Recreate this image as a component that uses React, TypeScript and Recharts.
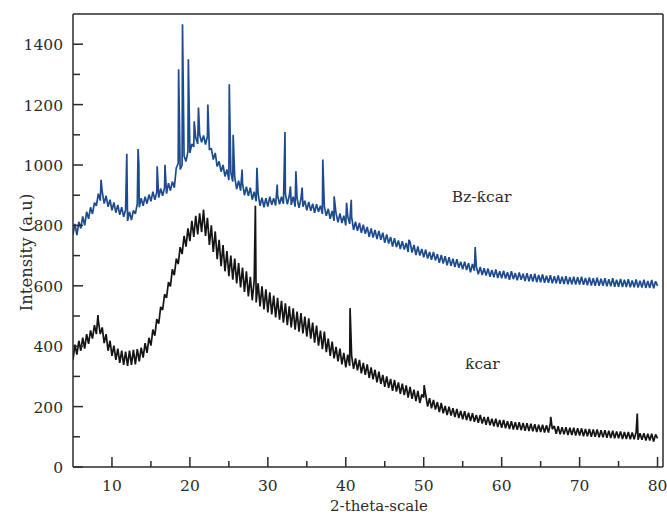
import React from "react";
import { LineChart, Line, XAxis, YAxis, ReferenceLine, ReferenceDot, Label } from "recharts";

// XRD patterns, sampled every 0.25 degree from 2θ = 5
const THETA_START = 5;
const THETA_STEP = 0.25;

// Bz-ƙcar (blue)
const bzIntensity = [
  770, 805, 768, 812, 790, 830, 800, 845, 822, 860, 838, 875, 865, 905, 882, 912,
  872, 898, 862, 885, 850, 876, 842, 868, 835, 860, 828, 852, 815, 845, 818, 850,
  838, 872, 860, 890, 865, 895, 872, 902, 880, 912, 885, 910, 892, 922, 898, 925,
  905, 940, 915, 945, 925, 990, 1005, 985, 1000, 1030, 1012, 1045, 1040, 1070, 1060, 1090,
  1070, 1100, 1075, 1098, 1068, 1095, 1050, 1055, 1018, 1040, 995, 1012, 978, 1000, 962, 985,
  950, 975, 945, 960, 920, 948, 915, 940, 900, 928, 898, 925, 885, 912, 880, 905,
  865, 892, 860, 890, 862, 895, 868, 890, 866, 900, 870, 895, 872, 905, 870, 898,
  868, 895, 862, 890, 858, 888, 862, 882, 850, 878, 848, 872, 842, 870, 845, 865,
  838, 862, 832, 855, 822, 848, 815, 840, 810, 840, 808, 832, 800, 830, 805, 828,
  785, 812, 782, 808, 775, 802, 772, 795, 762, 790, 760, 785, 755, 782, 752, 776,
  742, 770, 740, 762, 730, 758, 728, 750, 722, 748, 720, 742, 712, 745, 710, 735,
  702, 730, 700, 722, 694, 720, 690, 712, 686, 712, 684, 705, 676, 702, 674, 698,
  668, 695, 666, 690, 662, 688, 660, 680, 655, 680, 652, 675, 645, 672, 650, 664,
  638, 662, 636, 658, 634, 657, 630, 652, 628, 654, 626, 648, 625, 650, 624, 645,
  620, 648, 622, 642, 618, 644, 620, 640, 616, 642, 615, 638, 614, 640, 612, 636,
  612, 638, 610, 633, 610, 635, 608, 632, 608, 634, 607, 630, 606, 632, 605, 628,
  605, 630, 604, 628, 604, 630, 603, 626, 602, 628, 601, 625, 600, 627, 600, 623,
  600, 625, 598, 622, 598, 625, 597, 620, 597, 623, 596, 620, 596, 622, 595, 618,
  595, 621, 594, 617, 594, 620, 593, 616, 593, 619, 592, 615, 600,
];

// sharp reflections of Bz-ƙcar: [2θ, intensity]
const bzPeaks: [number, number][] = [
  [8.6, 951], [11.9, 1037], [13.35, 1053], [13.45, 1000], [15.8, 996], [16.8, 1001],
  [18.55, 1317], [19.05, 1466], [19.8, 1350], [20.55, 1145], [21.1, 1190], [22.3, 1200],
  [25.05, 1267], [25.55, 1100], [26.7, 985], [28.6, 991], [31.2, 935], [32.2, 1109],
  [32.9, 929], [33.6, 979], [34.4, 925], [37.05, 1018], [38.5, 896], [40.1, 875],
  [40.7, 885], [48.1, 752], [56.6, 728],
];

// ƙcar (black)
const kIntensity = [
  355, 405, 372, 418, 385, 428, 392, 440, 408, 452, 425, 470, 440, 485, 440, 462,
  410, 440, 385, 418, 368, 402, 355, 392, 345, 385, 338, 382, 335, 385, 338, 388,
  340, 390, 350, 395, 362, 410, 378, 428, 402, 455, 435, 490, 475, 530, 520, 572,
  560, 612, 598, 655, 635, 690, 672, 728, 705, 765, 730, 790, 748, 815, 762, 832,
  770, 840, 778, 852, 765, 825, 735, 800, 712, 780, 688, 752, 665, 735, 648, 715,
  632, 700, 620, 690, 608, 675, 595, 660, 580, 648, 565, 630, 552, 618, 545, 608,
  532, 598, 522, 588, 512, 578, 505, 568, 495, 560, 488, 550, 478, 542, 470, 532,
  462, 525, 455, 515, 448, 510, 442, 498, 432, 492, 425, 478, 412, 468, 402, 452,
  390, 448, 380, 425, 368, 415, 360, 398, 350, 392, 340, 378, 330, 372, 335, 368,
  325, 360, 320, 355, 310, 345, 305, 340, 295, 330, 290, 322, 280, 316, 275, 305,
  265, 300, 262, 292, 252, 288, 250, 280, 242, 276, 238, 270, 230, 265, 226, 256,
  218, 252, 212, 240, 230, 240, 200, 228, 194, 222, 190, 215, 182, 212, 178, 202,
  172, 200, 170, 195, 165, 192, 162, 186, 158, 185, 155, 180, 152, 178, 150, 172,
  146, 172, 144, 166, 140, 166, 138, 160, 135, 160, 132, 156, 130, 156, 128, 152,
  126, 152, 124, 148, 123, 148, 122, 146, 120, 145, 119, 143, 118, 142, 116, 140,
  116, 140, 114, 138, 114, 145, 125, 136, 110, 135, 108, 132, 108, 132, 106, 130,
  106, 130, 104, 128, 104, 128, 102, 126, 102, 126, 100, 124, 100, 124, 98, 122,
  98, 122, 97, 120, 96, 120, 95, 118, 95, 118, 93, 116, 93, 116, 92, 114,
  92, 115, 90, 112, 90, 112, 88, 110, 88, 110, 84, 108, 95,
];

const kPeaks: [number, number][] = [
  [8.2, 503], [28.4, 865], [40.55, 526], [50.05, 271], [66.3, 166], [77.4, 177],
];

const xTicks = [10, 15, 20, 25, 30, 35, 40, 45, 50, 55, 60, 65, 70, 75, 80];
const yTicks = [0, 100, 200, 300, 400, 500, 600, 700, 800, 900, 1000, 1100, 1200, 1300, 1400];

const SERIF = "'DejaVu Serif', serif";
const INK = "#2b2b2b";
const textStyle = { fontFamily: SERIF, fontSize: 15.5, fill: INK };

type Pt = { theta: number; value: number };

const buildSeries = (values: number[], peaks: [number, number][]): Pt[] => {
  const pts = values.map((v, i) => ({ theta: THETA_START + i * THETA_STEP, value: v }));
  peaks.forEach(([t, v]) => pts.push({ theta: t, value: v }));
  return pts.sort((a, b) => a.theta - b.theta);
};

const bzData = buildSeries(bzIntensity, bzPeaks);
const kData = buildSeries(kIntensity, kPeaks);

const XTick = (props: any) => {
  const { x, y, payload } = props;
  const major = payload.value % 10 === 0;
  return (
    <g>
      <line x1={x} y1={y} x2={x} y2={y - (major ? 10 : 6)} stroke={INK} strokeWidth={1.5} />
      {major && (
        <text x={x} y={y + 24} textAnchor="middle" style={textStyle}>
          {payload.value}
        </text>
      )}
    </g>
  );
};

const YTick = (props: any) => {
  const { x, y, payload } = props;
  const major = payload.value % 200 === 0;
  return (
    <g>
      <line x1={x} y1={y} x2={x + (major ? 10 : 7)} y2={y} stroke={INK} strokeWidth={1.5} />
      {major && (
        <text x={x - 10} y={y + 6} textAnchor="end" style={textStyle}>
          {payload.value}
        </text>
      )}
    </g>
  );
};

const XTitle = (props: any) => {
  const { viewBox } = props;
  return (
    <text x={viewBox.x + viewBox.width / 2 + 11} y={viewBox.y + 44} textAnchor="middle"
      style={{ ...textStyle, fontSize: 15 }}>
      2-theta-scale
    </text>
  );
};

const YTitle = (props: any) => {
  const { viewBox } = props;
  const cx = viewBox.x + 13;
  const cy = viewBox.y + viewBox.height / 2 + 12;
  return (
    <text x={cx} y={cy} transform={`rotate(-90, ${cx}, ${cy})`} textAnchor="middle"
      dominantBaseline="central" style={{ ...textStyle, fontSize: 16.5 }}>
      Intensity (a.u)
    </text>
  );
};

const App: React.FC = () => {
  return (
    <div style={{ position: "absolute", left: 0, top: 0, width: 667, height: 515, background: "#fff" }}>
      <LineChart width={667} height={515} margin={{ top: 14, right: 4, left: 13, bottom: 0 }}>
        <XAxis
          dataKey="theta"
          type="number"
          domain={[5, 80.7]}
          ticks={xTicks}
          interval={0}
          allowDataOverflow
          height={48}
          tickSize={0}
          tickMargin={0}
          tickLine={false}
          axisLine={{ stroke: INK, strokeWidth: 1.5 }}
          tick={<XTick />}
        >
          <Label content={<XTitle />} />
        </XAxis>
        <YAxis
          type="number"
          domain={[0, 1500]}
          ticks={yTicks}
          interval={0}
          allowDataOverflow
          width={60}
          tickSize={0}
          tickMargin={0}
          tickLine={false}
          axisLine={{ stroke: INK, strokeWidth: 1.5 }}
          tick={<YTick />}
        >
          <Label content={<YTitle />} />
        </YAxis>
        <ReferenceLine y={1500} stroke={INK} strokeWidth={1.5} />
        <ReferenceLine x={80.7} stroke={INK} strokeWidth={1.5} />
        <Line
          data={kData}
          dataKey="value"
          type="linear"
          stroke="#141414"
          strokeWidth={1.7}
          strokeLinejoin="bevel"
          dot={false}
          isAnimationActive={false}
        />
        <Line
          data={bzData}
          dataKey="value"
          type="linear"
          stroke="#1d4b8e"
          strokeWidth={1.7}
          strokeLinejoin="bevel"
          dot={false}
          isAnimationActive={false}
        />
        <ReferenceDot x={53.6} y={895} r={0} stroke="none" fill="none"
          label={{ value: "Bz-ƙcar", position: "right", offset: 0, style: textStyle }} />
        <ReferenceDot x={55.3} y={344} r={0} stroke="none" fill="none"
          label={{ value: "ƙcar", position: "right", offset: 0, style: textStyle }} />
      </LineChart>
    </div>
  );
};

export default App;
